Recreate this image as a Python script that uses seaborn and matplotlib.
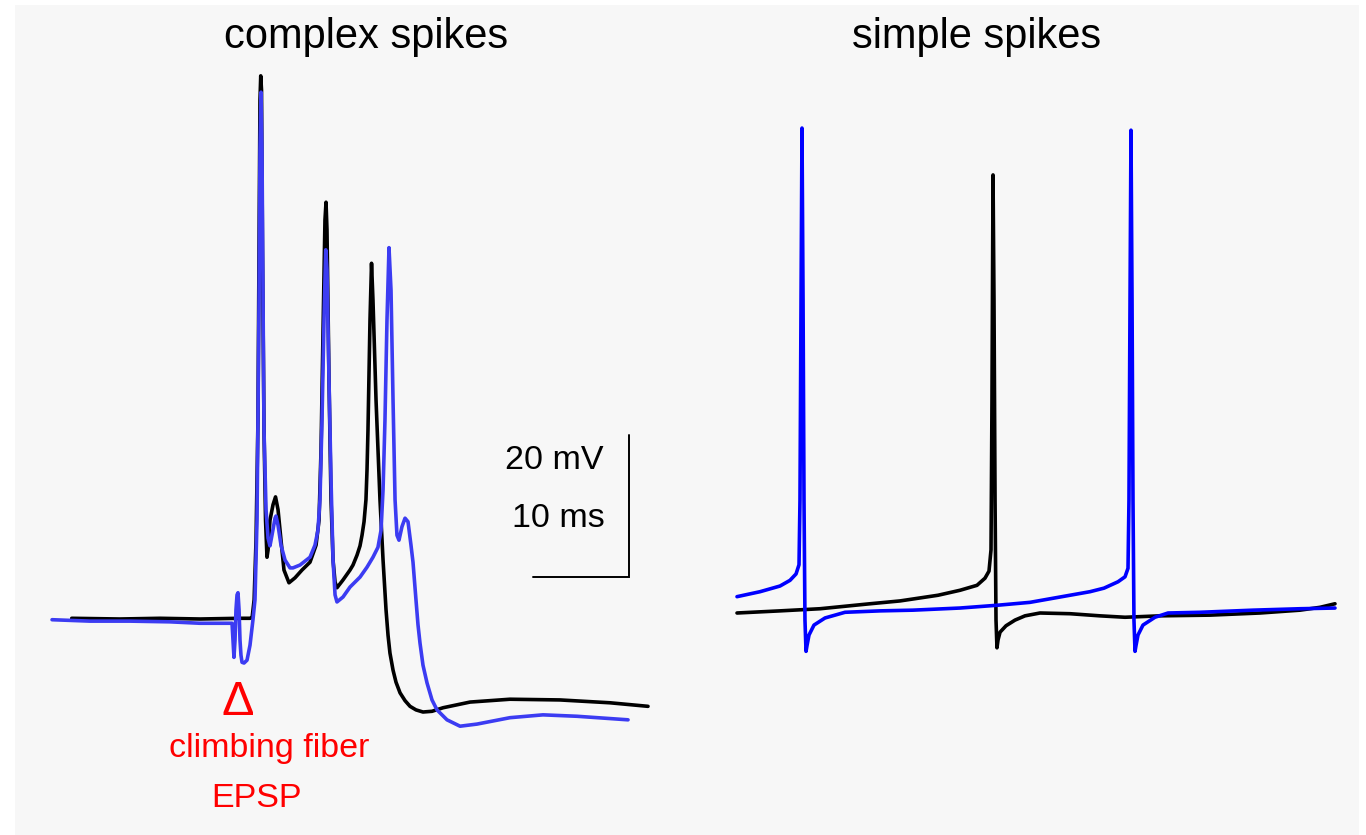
import matplotlib
matplotlib.use("Agg")
import matplotlib.pyplot as plt
import seaborn as sns
import pandas as pd
from matplotlib.patches import Rectangle

# ---------------- data (time in ms, membrane potential in mV) ----------------
# complex spikes (left panel), time relative to climbing fibre stimulus
cs_black_t = [-16.8, -11.8, -7.6, -3.4, 0.7, 1.8, 2.0, 2.2, 2.40, 2.60, 2.71, 2.81, 2.89, 2.97, 3.07,
              3.23, 3.39, 3.54, 3.65, 3.85, 4.17, 4.43, 4.69, 5.0, 5.31, 5.83, 6.46, 7.19, 8.02, 8.65,
              8.96, 9.17, 9.38, 9.58, 9.69, 9.79, 10.0, 10.21, 10.42, 10.63, 10.83, 11.46, 12.19, 12.5,
              12.92, 13.23, 13.44, 13.65, 13.85, 13.96, 14.06, 14.27, 14.43, 14.58, 14.90, 15.31, 15.63,
              15.94, 16.15, 16.35, 16.67, 16.98, 17.40, 17.92, 18.44, 19.06, 19.79, 20.73, 21.88, 24.69,
              28.85, 34.06, 39.27, 43.23]
cs_black_v = [-64.9, -65.0, -64.9, -65.0, -64.9, -64.9, -64.7, -62.3, -53.9, -37.0, -13.0, 8.1, 11.5, 9.5, -13.0,
              -38.4, -51.1, -56.3, -55.3, -51.1, -48.9, -47.8, -49.6, -53.9, -58.1, -59.9, -59.2, -58.1, -57.0, -54.6,
              -51.1, -41.2, -24.3, -8.8, -6.3, -10.2, -31.3, -48.2, -56.7, -59.8, -60.6, -59.5, -58.1, -57.4,
              -56.0, -54.7, -53.2, -51.3, -48.2, -44.0, -38.4, -22.9, -14.9, -20.1, -34.2, -48.2, -56.7,
              -63.7, -67.3, -69.8, -72.2, -73.9, -75.4, -76.5, -77.3, -77.8, -78.1, -78.0, -77.5, -76.7,
              -76.3, -76.4, -76.8, -77.3]

cs_blue_t = [-18.85, -14.9, -10.73, -6.56, -3.44, -0.10, 0.0, 0.10, 0.21, 0.31, 0.42, 0.52, 0.63, 0.73, 0.83,
             0.94, 1.15, 1.46, 1.77, 2.08, 2.29, 2.50, 2.60, 2.71, 2.81, 2.92, 3.02, 3.13, 3.23, 3.44, 3.65,
             3.85, 4.06, 4.38, 4.48, 4.69, 5.0, 5.42, 5.94, 6.25, 6.98, 8.02, 8.54, 8.85, 9.06, 9.27, 9.48,
             9.66, 9.79, 10.0, 10.21, 10.42, 10.63, 10.83, 11.46, 12.19, 13.23, 13.96, 14.58, 15.10, 15.42,
             15.63, 15.83, 16.04, 16.25, 16.46, 16.67, 16.88, 17.08, 17.29, 17.60, 17.92, 18.23, 18.54,
             18.75, 19.06, 19.27, 19.48, 19.79, 20.21, 20.73, 21.25, 22.29, 23.65, 25.42, 28.85, 32.29,
             35.83, 41.15]
cs_blue_v = [-65.1, -65.3, -65.3, -65.4, -65.6, -65.6, -68.0, -70.4, -68.0, -63.7, -61.6, -61.3, -63.7, -68.0, -70.1,
             -71.1, -71.2, -70.8, -68.7, -65.1, -62.3, -51.1, -37.0, -20.1, 1.1, 9.2, 1.1, -20.1, -38.4, -49.6, -53.6,
             -54.7, -53.2, -50.8, -50.5, -51.8, -54.6, -56.7, -57.8, -57.8, -57.4, -56.3, -54.6, -52.5, -48.2, -37.0, -22.9,
             -13.0, -15.8, -31.3, -45.4, -56.7, -61.6, -62.6, -61.9, -60.5, -59.1, -57.7, -56.3, -54.9, -52.5,
             -46.8, -37.0, -22.9, -12.7, -18.7, -34.2, -48.2, -53.2, -53.9, -52.0, -50.8, -51.3, -54.6,
             -57.0, -62.3, -65.8, -68.4, -71.5, -74.0, -76.4, -77.8, -79.2, -80.1, -79.8, -78.9, -78.5,
             -78.7, -79.2]

# simple spikes (right panel)
ss_black_t = [0.0, 4.48, 8.65, 13.85, 16.98, 20.94, 23.23, 25.0, 25.83, 26.25, 26.46, 26.56, 26.67, 26.77,
              26.88, 26.98, 27.08, 27.19, 27.40, 28.02, 28.96, 30.0, 31.56, 34.69, 37.81, 40.42, 44.06,
              49.27, 54.48, 58.65, 60.73, 62.29]
ss_black_v = [-65.0, -64.7, -64.4, -63.7, -63.3, -62.5, -61.8, -61.1, -60.1, -59.1, -56.1, -35.0, -3.3, -20.9,
              -49.1, -66.0, -69.9, -68.8, -67.7, -66.8, -66.0, -65.4, -65.0, -65.1, -65.4, -65.6, -65.4,
              -65.3, -65.0, -64.6, -64.2, -63.7]

ss_blue_t = [0.0, 2.40, 4.48, 5.52, 6.15, 6.46, 6.56, 6.67, 6.77, 6.88, 6.98, 7.08, 7.19, 7.29, 7.5, 8.02,
             9.17, 11.25, 14.90, 18.33, 23.23, 27.19, 30.52, 33.85, 36.77, 38.23, 39.69, 40.42, 40.73,
             40.83, 40.94, 41.04, 41.15, 41.25, 41.35, 41.46, 41.56, 41.77, 42.29, 43.54, 44.90, 48.23,
             53.75, 58.65, 62.29]
ss_blue_v = [-62.7, -62.0, -61.2, -60.4, -59.5, -58.2, -49.1, -20.9, 3.3, -20.9, -49.1, -66.0, -70.4, -69.6, -68.1, -66.7,
             -65.7, -64.9, -64.7, -64.6, -64.3, -63.9, -63.5, -62.7, -62.0, -61.5, -60.6, -59.9, -58.7,
             -49.1, -20.9, 3.0, -20.9, -49.1, -66.0, -70.4, -69.6, -68.1, -66.7, -65.6, -65.0, -64.9,
             -64.6, -64.4, -64.3]

scale_mv = 20
scale_ms = 10
titles = ["complex spikes", "simple spikes"]

# ---------------- layout ----------------
W, H = 1366, 835
PX_MS, PX_MV = 9.6, 7.1

sns.set_theme(style="white")
plt.rcParams["font.family"] = ["Liberation Sans", "DejaVu Sans"]

fig = plt.figure(figsize=(W / 100, H / 100), dpi=100, facecolor="white")
fig.patches.append(Rectangle((15 / W, 0), (1359 - 15) / W, (H - 5) / H,
                             transform=fig.transFigure, facecolor="#f7f7f7",
                             edgecolor="none", zorder=-10))


def make_axes(x0_px, y0_px, v0):
    ax = fig.add_axes([0, 0, 1, 1])
    ax.set_facecolor("none")
    ax.set_xlim(-x0_px / PX_MS, (W - x0_px) / PX_MS)
    ax.set_ylim(v0 - (H - y0_px) / PX_MV, v0 + y0_px / PX_MV)
    ax.axis("off")
    return ax


ax1 = make_axes(233, 619, -65.0)
ax2 = make_axes(737, 613, -65.0)

lw = 2.6
blue_l = "#3c3cf2"
blue_r = "#0000ff"


def trace(ax, t, v, color, z):
    df = pd.DataFrame({"t": t, "v": v})
    sns.lineplot(data=df, x="t", y="v", ax=ax, color=color, lw=lw,
                 sort=False, estimator=None, zorder=z)


trace(ax1, cs_black_t, cs_black_v, "black", 3)
trace(ax1, cs_blue_t, cs_blue_v, blue_l, 4)
trace(ax2, ss_black_t, ss_black_v, "black", 3)
trace(ax2, ss_blue_t, ss_blue_v, blue_r, 4)
for ax in (ax1, ax2):
    ax.axis("off")

# scale bar (corner at 41.25 ms, -59.1 mV in left panel units)
cx, cy = 41.25, -59.1
ax1.plot([cx - scale_ms, cx, cx], [cy, cy, cy + scale_mv], color="black", lw=1.4,
         solid_joinstyle="miter")


def ftext(x, y, s, size, color="black", va="baseline"):
    fig.text(x / W, 1 - y / H, s, ha="center", va=va, fontsize=size, color=color)


ftext(366, 48, titles[0], 30)
ftext(977, 48, titles[1], 30)
ftext(554, 469, f"{scale_mv} mV", 24.5)
ftext(558, 527, f"{scale_ms} ms", 24.5)
ftext(238, 715, "Δ", 35, color="red")
ftext(269, 757, "climbing fiber", 24.5, color="red")
ftext(256, 807, "EPSP", 24.5, color="red")

fig.savefig("out.png", dpi=100, facecolor="white")
